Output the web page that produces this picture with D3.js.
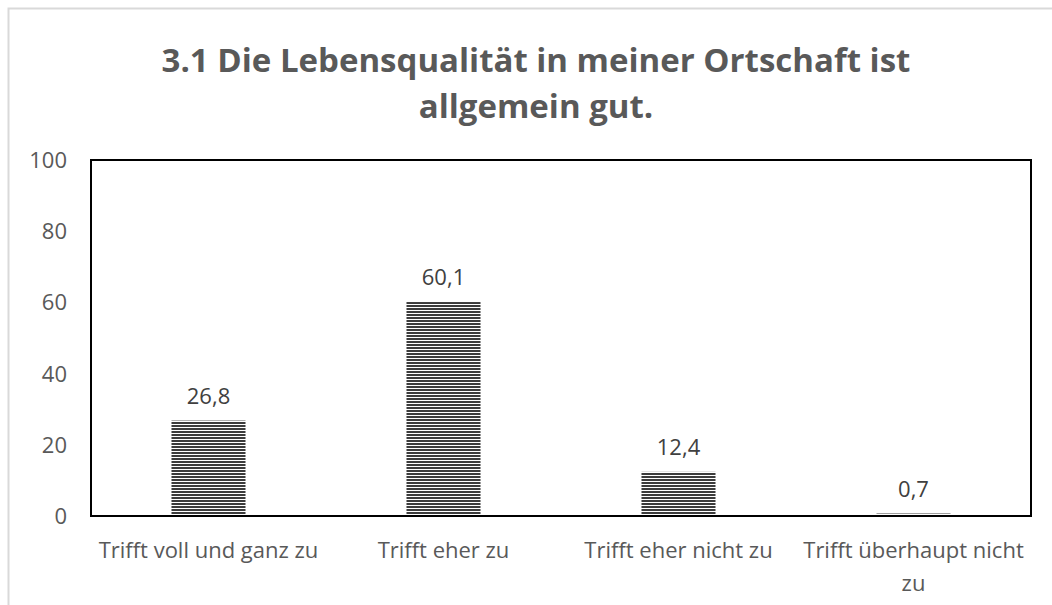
<!DOCTYPE html>
<html>
<head>
<meta charset="utf-8">
<script src="https://cdn.jsdelivr.net/npm/d3@7"></script>
<style>
  body { margin: 0; background: #fff; }
  svg { display: block; font-family: "Open Sans", "Noto Sans", sans-serif; }
</style>
</head>
<body>
<div id="chart"></div>
<script>
const categories = [["Trifft voll und ganz zu"], ["Trifft eher zu"], ["Trifft eher nicht zu"], ["Trifft überhaupt nicht", "zu"]];
const values = [26.8, 60.1, 12.4, 0.7];
const yTicks = [0, 20, 40, 60, 80, 100];
const titleLines = ["3.1 Die Lebensqualität in meiner Ortschaft ist", "allgemein gut."];

const W = 1052, H = 605;
const margin = {top: 160, right: 21, bottom: 89, left: 91},
    width = W - margin.left - margin.right,
    height = H - margin.top - margin.bottom;

const svg = d3.select("#chart").append("svg")
    .attr("width", W)
    .attr("height", H);

// hatched fill like the Excel pattern
const pat = svg.append("defs").append("pattern")
    .attr("id", "hlines")
    .attr("patternUnits", "userSpaceOnUse")
    .attr("width", 8).attr("height", 3);
pat.append("rect").attr("width", 8).attr("height", 3).attr("fill", "#fff");
pat.append("rect").attr("y", 1).attr("width", 8).attr("height", 2).attr("fill", "#3c3c3c");

// outer chart frame (cut off on right/bottom)
svg.append("rect")
    .attr("x", 8.5).attr("y", 8.5)
    .attr("width", W + 10).attr("height", H + 10)
    .attr("fill", "none")
    .attr("stroke", "#d9d9d9")
    .attr("stroke-width", 2);

svg.append("g").selectAll("text").data(titleLines)
    .enter().append("text")
    .attr("x", 536)
    .attr("y", (d, i) => 72 + i * 46)
    .attr("text-anchor", "middle")
    .style("font-size", "33px")
    .style("font-weight", "bold")
    .style("fill", "#595959")
    .text(d => d);

const g = svg.append("g")
    .attr("transform", "translate(" + margin.left + "," + margin.top + ")");

const x = d3.scaleBand()
    .domain(d3.range(categories.length))
    .range([0, width])
    .paddingInner(0.685)
    .paddingOuter(0.3425);

const y = d3.scaleLinear()
    .domain([0, 100])
    .range([height, 0]);

// y tick labels
g.selectAll("text.ytick").data(yTicks)
    .enter().append("text")
    .attr("class", "ytick")
    .attr("x", -24)
    .attr("y", d => y(d) + 8)
    .attr("text-anchor", "end")
    .style("font-size", "22px")
    .style("fill", "#595959")
    .text(d => d);

// bars
g.selectAll("rect.bar").data(values)
    .enter().append("rect")
    .attr("class", "bar")
    .attr("x", (d, i) => x(i))
    .attr("y", d => y(d))
    .attr("width", x.bandwidth())
    .attr("height", d => height - y(d))
    .attr("fill", "url(#hlines)");

// value labels
g.selectAll("text.val").data(values)
    .enter().append("text")
    .attr("class", "val")
    .attr("x", (d, i) => x(i) + x.bandwidth() / 2)
    .attr("y", d => y(d) - 17)
    .attr("text-anchor", "middle")
    .style("font-size", "22px")
    .style("fill", "#404040")
    .text(d => d.toFixed(1).replace(".", ","));

// x axis baseline
g.append("line")
    .attr("x1", 0).attr("x2", width)
    .attr("y1", height).attr("y2", height)
    .attr("stroke", "#d9d9d9")
    .attr("stroke-width", 2);

// plot area border
g.append("rect")
    .attr("x", 0).attr("y", 0)
    .attr("width", width).attr("height", height)
    .attr("fill", "none")
    .attr("stroke", "#000")
    .attr("stroke-width", 2);

// category labels
const step = width / categories.length;
const cat = g.selectAll("text.cat").data(categories)
    .enter().append("text")
    .attr("class", "cat")
    .attr("x", (d, i) => step * (i + 0.5))
    .attr("y", height + 42)
    .attr("text-anchor", "middle")
    .style("font-size", "22px")
    .style("fill", "#595959");
cat.selectAll("tspan").data(d => d)
    .enter().append("tspan")
    .attr("x", function() { return this.parentNode.getAttribute("x"); })
    .attr("dy", (d, i) => i === 0 ? 0 : 33)
    .text(d => d);
</script>
</body>
</html>
